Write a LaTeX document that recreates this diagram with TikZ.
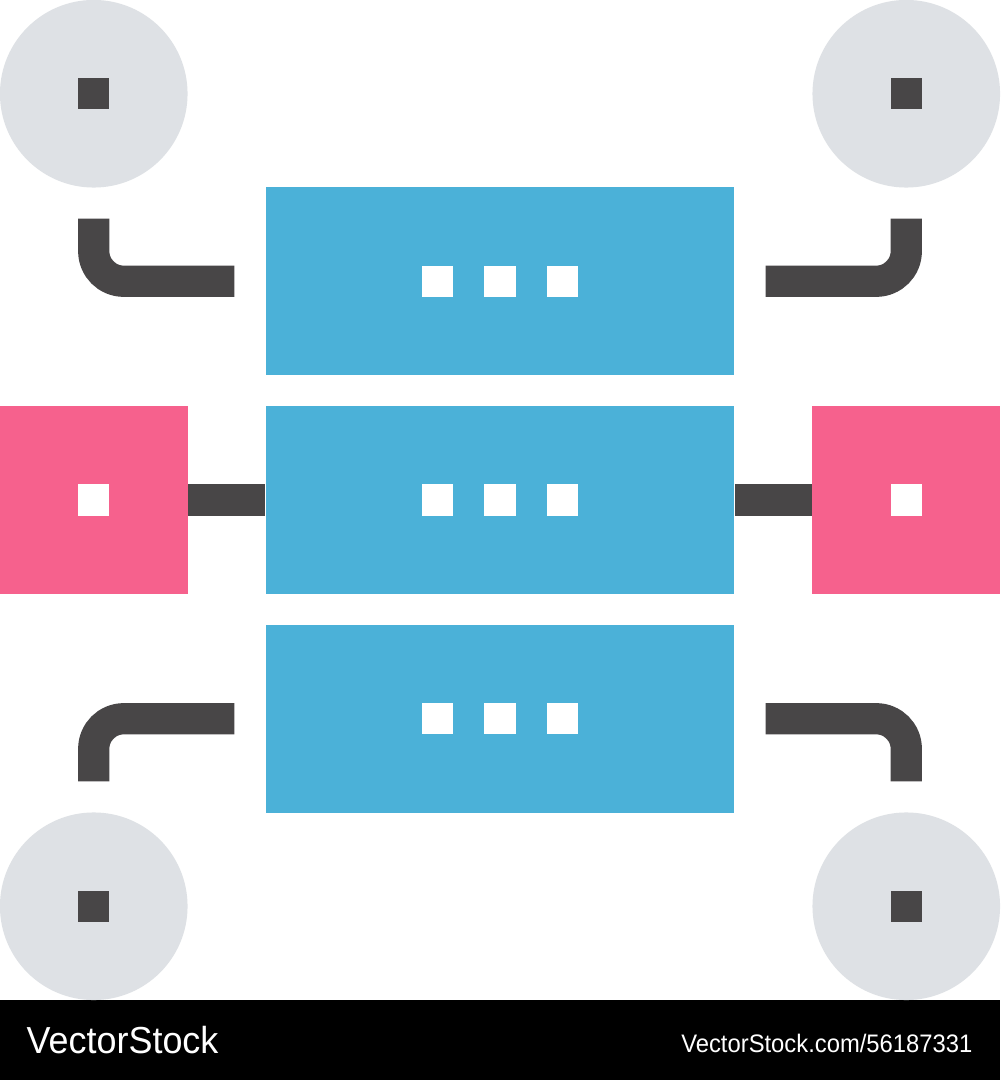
\documentclass[tikz,border=0pt]{standalone}
\usepackage{fontspec}
\setmainfont{Liberation Sans}
\definecolor{rackblue}{HTML}{4BB1D8}
\definecolor{hostpink}{HTML}{F6618D}
\definecolor{peergray}{HTML}{DEE1E5}
\definecolor{wiredark}{HTML}{484647}
\tikzset{
  rack/.style={fill=rackblue,minimum width=4.68cm,minimum height=1.875cm,inner sep=0},
  host/.style={fill=hostpink,minimum size=1.875cm,inner sep=0},
  peer/.style={circle,fill=peergray,minimum size=1.875cm,inner sep=0},
  dot/.style={fill=#1,minimum size=0.3125cm,inner sep=0},
  wire/.style={draw=wiredark,line width=0.3125cm,rounded corners=0.3cm},
  brand/.style={text=white,inner sep=0}
}
\begin{document}
\begin{tikzpicture}[x=0.01cm,y=-0.01cm]
    \useasboundingbox (0, 0) rectangle (1000, 1080);
    \fill[white] (0, 0) rectangle (1000, 1000);
    \fill[black] (0, 1000) rectangle (1000, 1080);
    \foreach \n/\y in {1/281.25, 2/500, 3/718.75} {
      \node[rack] (rack\n) at (500, \y) {};
      \node[dot=white] (rack\n dotl) at (437.5, \y) {};
      \node[dot=white] (rack\n dotm) at (500, \y) {};
      \node[dot=white] (rack\n dotr) at (562.5, \y) {};
    }
    \node[host] (hostl) at (93.75, 500) {};
    \node[host] (hostr) at (906.25, 500) {};
    \node[dot=white] (hostldot) at (93.75, 500) {};
    \node[dot=white] (hostrdot) at (906.25, 500) {};
    \draw[wire] (hostl.east) -- (rack2.west);
    \draw[wire] (rack2.east) -- (hostr.west);
    \foreach \n/\x/\y in {nw/93.75/93.75, ne/906.25/93.75, sw/93.75/906.25, se/906.25/906.25} {
      \node[peer] (peer\n) at (\x, \y) {};
      \node[dot=wiredark] (peer\n dot) at (\x, \y) {};
    }
    \coordinate (nwa) at (93.75, 218.75);
    \coordinate (nwb) at (234.4, 281.25);
    \coordinate (nea) at (906.25, 218.75);
    \coordinate (neb) at (765.6, 281.25);
    \coordinate (swa) at (93.75, 781.25);
    \coordinate (swb) at (234.4, 718.75);
    \coordinate (sea) at (906.25, 781.25);
    \coordinate (seb) at (765.6, 718.75);
    \foreach \n in {nw, ne, sw, se} {
      \draw[wire] (\n a) -- (\n a |- \n b) -- (\n b);
    }
    \node[brand,anchor=west,font=\fontsize{10.7pt}{12pt}\selectfont,xscale=0.955] (brandl) at (26, 1040) {VectorStock};
    \node[brand,anchor=east,font=\fontsize{7.2pt}{8pt}\selectfont,xscale=0.94] (brandr) at (973, 1043) {VectorStock.com/56187331};
\end{tikzpicture}
\end{document}
